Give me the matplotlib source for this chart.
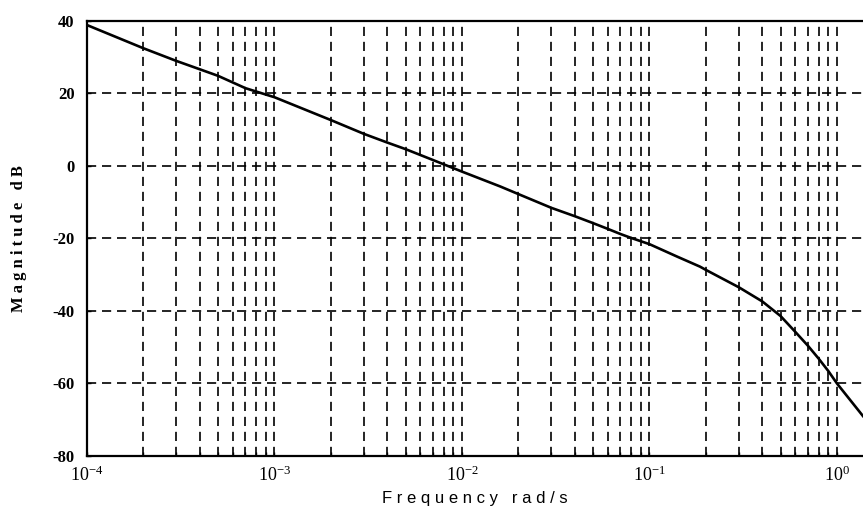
import matplotlib
matplotlib.use("Agg")
import matplotlib.pyplot as plt
from matplotlib.ticker import FixedLocator, LogLocator, NullFormatter

# values (frequency in rad/s, magnitude in dB)
freq = [1e-4, 2e-4, 3e-4, 4e-4, 5e-4, 7e-4, 1e-3, 2e-3, 3e-3, 4e-3, 5e-3, 7e-3,
        1e-2, 1.6e-2, 2e-2, 3e-2, 4e-2, 5e-2, 6e-2, 7e-2, 8e-2, 1e-1, 1.4e-1,
        1.86e-1, 2e-1, 3e-1, 4e-1, 5e-1, 6e-1, 7e-1, 8e-1, 9e-1, 1.0, 1.377]
mag = [38.8, 32.4, 28.9, 26.6, 24.8, 21.4, 18.9, 12.6, 8.8, 6.4, 4.6, 1.6,
       -1.6, -5.7, -7.8, -11.6, -13.9, -15.8, -17.4, -18.8, -19.9, -21.6, -25.0,
       -27.8, -28.7, -33.5, -37.4, -41.4, -45.8, -49.6, -53.2, -56.6, -60.0, -69.0]

x_major = [1e-4, 1e-3, 1e-2, 1e-1, 1e0]
x_labels = [r"$\mathregular{10^{-4}}$", r"$\mathregular{10^{-3}}$", r"$\mathregular{10^{-2}}$",
            r"$\mathregular{10^{-1}}$", r"$\mathregular{10^{0}}$"]
y_ticks = [-80, -60, -40, -20, 0, 20, 40]

plt.rcParams["font.family"] = ["Liberation Serif", "DejaVu Serif"]
plt.rcParams["mathtext.fontset"] = "custom"
plt.rcParams["mathtext.rm"] = "Liberation Serif"

fig = plt.figure(figsize=(8.63, 5.13), dpi=100)
ax = fig.add_axes([87 / 863, 1 - 456 / 513, 1 - 87 / 863, (456 - 20.7) / 513])

ax.plot(freq, mag, color="black", linewidth=1.9, zorder=3)

ax.set_xscale("log")
ax.set_xlim(1e-4, 1.377)
ax.set_ylim(-80, 40)

ax.xaxis.set_major_locator(FixedLocator(x_major))
ax.set_xticklabels(x_labels)
ax.xaxis.set_minor_locator(LogLocator(base=10, subs=range(2, 10), numticks=20))
ax.xaxis.set_minor_formatter(NullFormatter())
ax.set_yticks(y_ticks)
ax.set_yticklabels([str(v) for v in y_ticks])

grid_style = dict(color="black", linewidth=1.2, linestyle=(0, (5.5, 3.5)))
ax.grid(True, which="major", axis="both", **grid_style)
ax.grid(True, which="minor", axis="x", **grid_style)

ax.tick_params(axis="both", which="both", direction="in", length=3, width=1,
               top=False, right=False)
ax.tick_params(axis="x", labelsize=13, pad=7)
ax.tick_params(axis="y", labelsize=12, pad=9)
for lab in ax.get_yticklabels():
    lab.set_fontweight("bold")

for side in ("left", "top", "bottom"):
    ax.spines[side].set_linewidth(1.6)
ax.spines["right"].set_visible(False)

ax.set_ylabel("M a g n i t u d e   d B", fontsize=12, fontweight="bold", labelpad=18)
ax.set_xlabel("F r e q u e n c y   r a d / s", fontsize=12,
              family=["Liberation Sans", "DejaVu Sans"], labelpad=4)

fig.savefig("out.png", dpi=100)
